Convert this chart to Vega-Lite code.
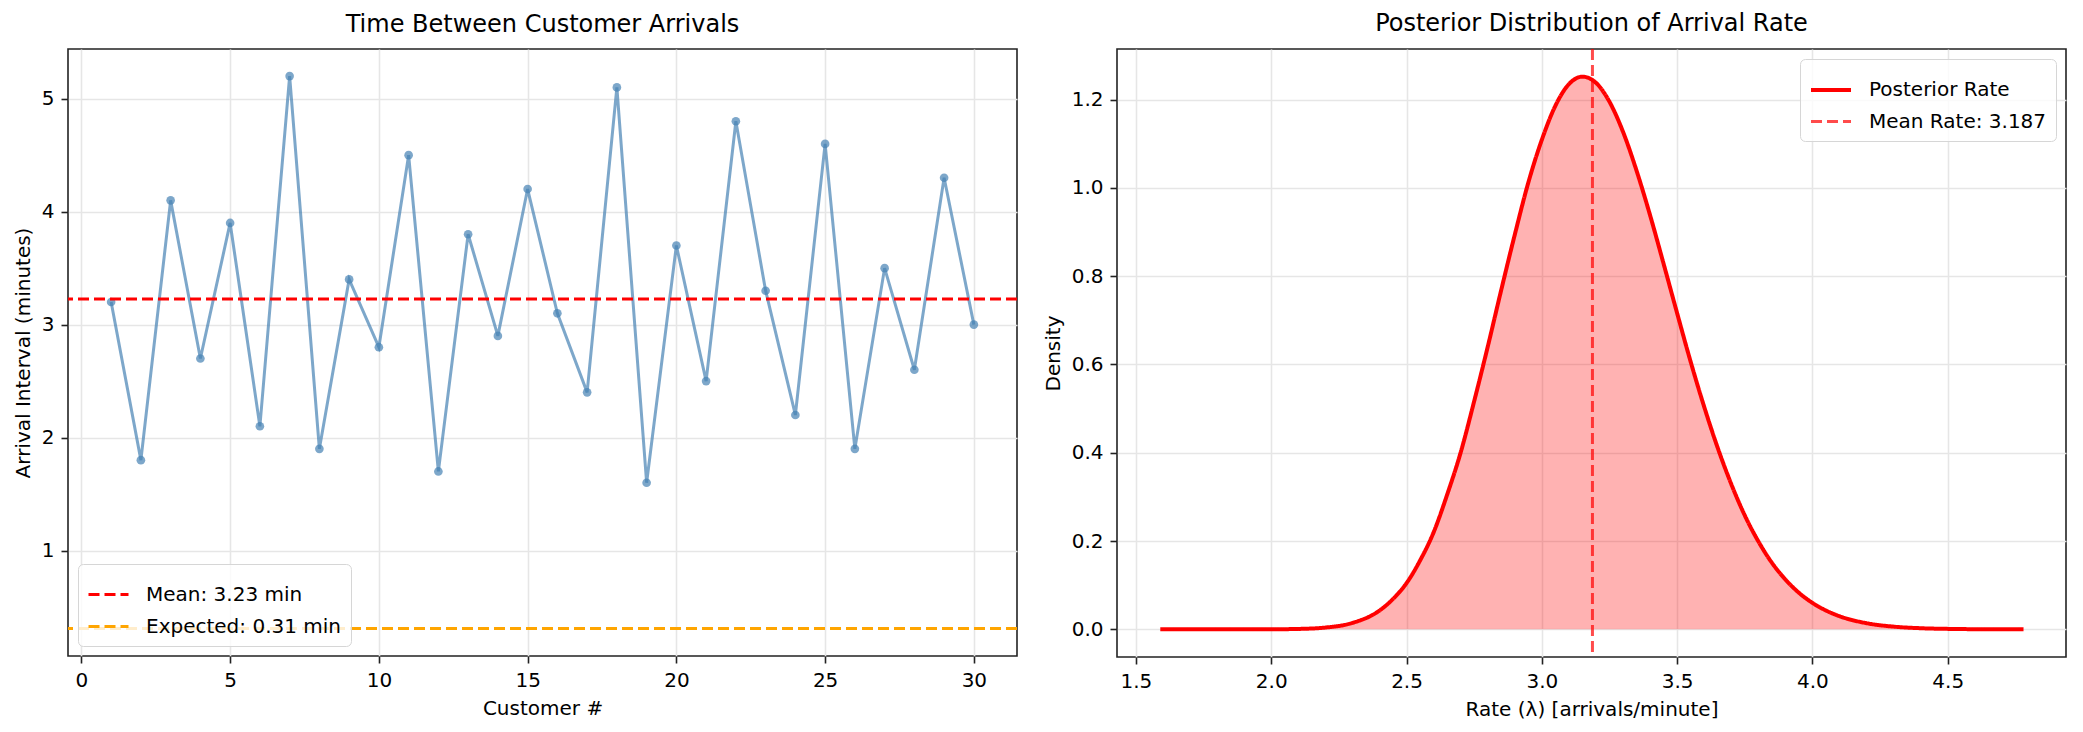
{
  "$schema": "https://vega.github.io/schema/vega-lite/v6.json",
  "padding": {"left": 12, "top": 10, "right": 14, "bottom": 10},
  "bounds": "flush",
  "spacing": 100,
  "datasets": {
    "arrivals": [
      {"customer": 1, "interval": 3.2}, {"customer": 2, "interval": 1.8}, {"customer": 3, "interval": 4.1},
      {"customer": 4, "interval": 2.7}, {"customer": 5, "interval": 3.9}, {"customer": 6, "interval": 2.1},
      {"customer": 7, "interval": 5.2}, {"customer": 8, "interval": 1.9}, {"customer": 9, "interval": 3.4},
      {"customer": 10, "interval": 2.8}, {"customer": 11, "interval": 4.5}, {"customer": 12, "interval": 1.7},
      {"customer": 13, "interval": 3.8}, {"customer": 14, "interval": 2.9}, {"customer": 15, "interval": 4.2},
      {"customer": 16, "interval": 3.1}, {"customer": 17, "interval": 2.4}, {"customer": 18, "interval": 5.1},
      {"customer": 19, "interval": 1.6}, {"customer": 20, "interval": 3.7}, {"customer": 21, "interval": 2.5},
      {"customer": 22, "interval": 4.8}, {"customer": 23, "interval": 3.3}, {"customer": 24, "interval": 2.2},
      {"customer": 25, "interval": 4.6}, {"customer": 26, "interval": 1.9}, {"customer": 27, "interval": 3.5},
      {"customer": 28, "interval": 2.6}, {"customer": 29, "interval": 4.3}, {"customer": 30, "interval": 3.0}
    ],
    "reflines": [
      {"label": "Mean: 3.23 min", "value": 3.227},
      {"label": "Expected: 0.31 min", "value": 0.31}
    ],
    "posterior": [
      {"rate": 1.59, "density": 0.0, "series": "Posterior Rate"},
      {"rate": 1.7, "density": 0.0, "series": "Posterior Rate"},
      {"rate": 1.8, "density": 0.0, "series": "Posterior Rate"},
      {"rate": 1.9, "density": 0.00003, "series": "Posterior Rate"},
      {"rate": 2.0, "density": 0.00018, "series": "Posterior Rate"},
      {"rate": 2.1, "density": 0.00096, "series": "Posterior Rate"},
      {"rate": 2.2, "density": 0.0041, "series": "Posterior Rate"},
      {"rate": 2.3, "density": 0.0146, "series": "Posterior Rate"},
      {"rate": 2.4, "density": 0.0426, "series": "Posterior Rate"},
      {"rate": 2.45, "density": 0.0689, "series": "Posterior Rate"},
      {"rate": 2.5, "density": 0.1048, "series": "Posterior Rate"},
      {"rate": 2.55, "density": 0.156, "series": "Posterior Rate"},
      {"rate": 2.6, "density": 0.2197, "series": "Posterior Rate"},
      {"rate": 2.65, "density": 0.305, "series": "Posterior Rate"},
      {"rate": 2.7, "density": 0.4006, "series": "Posterior Rate"},
      {"rate": 2.75, "density": 0.517, "series": "Posterior Rate"},
      {"rate": 2.8, "density": 0.64, "series": "Posterior Rate"},
      {"rate": 2.85, "density": 0.769, "series": "Posterior Rate"},
      {"rate": 2.9, "density": 0.894, "series": "Posterior Rate"},
      {"rate": 2.95, "density": 1.012, "series": "Posterior Rate"},
      {"rate": 3.0, "density": 1.109, "series": "Posterior Rate"},
      {"rate": 3.05, "density": 1.186, "series": "Posterior Rate"},
      {"rate": 3.1, "density": 1.235, "series": "Posterior Rate"},
      {"rate": 3.15, "density": 1.252, "series": "Posterior Rate"},
      {"rate": 3.2, "density": 1.238, "series": "Posterior Rate"},
      {"rate": 3.25, "density": 1.195, "series": "Posterior Rate"},
      {"rate": 3.3, "density": 1.127, "series": "Posterior Rate"},
      {"rate": 3.35, "density": 1.039, "series": "Posterior Rate"},
      {"rate": 3.4, "density": 0.938, "series": "Posterior Rate"},
      {"rate": 3.45, "density": 0.828, "series": "Posterior Rate"},
      {"rate": 3.5, "density": 0.716, "series": "Posterior Rate"},
      {"rate": 3.55, "density": 0.606, "series": "Posterior Rate"},
      {"rate": 3.6, "density": 0.504, "series": "Posterior Rate"},
      {"rate": 3.65, "density": 0.411, "series": "Posterior Rate"},
      {"rate": 3.7, "density": 0.329, "series": "Posterior Rate"},
      {"rate": 3.75, "density": 0.258, "series": "Posterior Rate"},
      {"rate": 3.8, "density": 0.1994, "series": "Posterior Rate"},
      {"rate": 3.85, "density": 0.151, "series": "Posterior Rate"},
      {"rate": 3.9, "density": 0.113, "series": "Posterior Rate"},
      {"rate": 3.95, "density": 0.0829, "series": "Posterior Rate"},
      {"rate": 4.0, "density": 0.06, "series": "Posterior Rate"},
      {"rate": 4.05, "density": 0.0427, "series": "Posterior Rate"},
      {"rate": 4.1, "density": 0.0298, "series": "Posterior Rate"},
      {"rate": 4.2, "density": 0.014, "series": "Posterior Rate"},
      {"rate": 4.3, "density": 0.0062, "series": "Posterior Rate"},
      {"rate": 4.4, "density": 0.0026, "series": "Posterior Rate"},
      {"rate": 4.5, "density": 0.0011, "series": "Posterior Rate"},
      {"rate": 4.6, "density": 0.0004, "series": "Posterior Rate"},
      {"rate": 4.7, "density": 0.0002, "series": "Posterior Rate"},
      {"rate": 4.78, "density": 0.0001, "series": "Posterior Rate"}
    ],
    "meanrate": [
      {"rate": 3.187, "series": "Mean Rate: 3.187"}
    ]
  },
  "hconcat": [
    {
      "title": "Time Between Customer Arrivals",
      "width": 949,
      "height": 607,
      "layer": [
        {
          "data": {"name": "arrivals"},
          "mark": {
            "type": "line",
            "color": "#4682b4",
            "opacity": 0.7,
            "strokeWidth": 3,
            "point": {"filled": true, "size": 75, "color": "#4682b4", "opacity": 0.7}
          },
          "encoding": {
            "x": {
              "field": "customer",
              "type": "quantitative",
              "title": "Customer #",
              "scale": {"domain": [-0.45, 31.45], "nice": false, "zero": false},
              "axis": {"values": [0, 5, 10, 15, 20, 25, 30], "format": "d"}
            },
            "y": {
              "field": "interval",
              "type": "quantitative",
              "title": "Arrival Interval (minutes)",
              "scale": {"domain": [0.066, 5.44], "nice": false, "zero": false},
              "axis": {"values": [1, 2, 3, 4, 5], "format": "d"}
            }
          }
        },
        {
          "data": {"name": "reflines"},
          "mark": {"type": "rule", "strokeWidth": 3, "strokeDash": [11, 5]},
          "encoding": {
            "y": {"field": "value", "type": "quantitative"},
            "color": {
              "field": "label",
              "type": "nominal",
              "scale": {"domain": ["Mean: 3.23 min", "Expected: 0.31 min"], "range": ["#ff0000", "#ffa500"]},
              "legend": {
                "title": null,
                "orient": "bottom-left",
                "offset": 10,
                "symbolDash": [11, 5],
                "symbolStrokeWidth": 3
              }
            }
          }
        }
      ]
    },
    {
      "title": "Posterior Distribution of Arrival Rate",
      "width": 949,
      "height": 608,
      "layer": [
        {
          "data": {"name": "posterior"},
          "mark": {"type": "area", "color": "#ff0000", "opacity": 0.3, "interpolate": "monotone"},
          "encoding": {
            "x": {
              "field": "rate",
              "type": "quantitative",
              "title": "Rate (λ) [arrivals/minute]",
              "scale": {"domain": [1.43, 4.937], "nice": false, "zero": false},
              "axis": {"values": [1.5, 2.0, 2.5, 3.0, 3.5, 4.0, 4.5], "format": ".1f"}
            },
            "y": {
              "field": "density",
              "type": "quantitative",
              "title": "Density",
              "scale": {"domain": [-0.0626, 1.3146], "nice": false, "zero": false},
              "axis": {"values": [0, 0.2, 0.4, 0.6, 0.8, 1.0, 1.2], "format": ".1f"}
            },
            "y2": {"datum": 0}
          }
        },
        {
          "data": {"name": "posterior"},
          "mark": {"type": "line", "interpolate": "monotone"},
          "encoding": {
            "x": {"field": "rate", "type": "quantitative"},
            "y": {"field": "density", "type": "quantitative"},
            "color": {
              "field": "series",
              "type": "nominal",
              "scale": {"domain": ["Posterior Rate", "Mean Rate: 3.187"], "range": ["#ff0000", "#ff0000"]},
              "legend": {"title": null, "orient": "top-right", "offset": 10}
            },
            "strokeDash": {
              "field": "series",
              "type": "nominal",
              "scale": {"domain": ["Posterior Rate", "Mean Rate: 3.187"], "range": [[1, 0], [11, 5]]},
              "legend": {"title": null, "orient": "top-right", "offset": 10}
            },
            "strokeWidth": {
              "field": "series",
              "type": "nominal",
              "scale": {"domain": ["Posterior Rate", "Mean Rate: 3.187"], "range": [4, 3]},
              "legend": {"title": null, "orient": "top-right", "offset": 10}
            },
            "opacity": {
              "field": "series",
              "type": "nominal",
              "scale": {"domain": ["Posterior Rate", "Mean Rate: 3.187"], "range": [1, 0.7]},
              "legend": {"title": null, "orient": "top-right", "offset": 10}
            }
          }
        },
        {
          "data": {"name": "meanrate"},
          "mark": {"type": "rule"},
          "encoding": {
            "x": {"field": "rate", "type": "quantitative"},
            "color": {"field": "series", "type": "nominal"},
            "strokeDash": {"field": "series", "type": "nominal"},
            "strokeWidth": {"field": "series", "type": "nominal"},
            "opacity": {"field": "series", "type": "nominal"}
          }
        }
      ]
    }
  ],
  "resolve": {
    "scale": {"x": "independent", "y": "independent", "color": "independent", "strokeDash": "independent", "strokeWidth": "independent", "opacity": "independent"},
    "legend": {"color": "independent", "strokeDash": "independent", "strokeWidth": "independent", "opacity": "independent"}
  },
  "config": {
    "font": "DejaVu Sans",
    "background": "white",
    "view": {"stroke": "#222222", "strokeWidth": 1.6},
    "axis": {
      "domain": false,
      "grid": true,
      "gridColor": "#e6e6e6",
      "gridWidth": 1.6,
      "tickColor": "#222222",
      "tickWidth": 1.6,
      "tickSize": 7,
      "labelPadding": 7,
      "labelFont": "DejaVu Sans",
      "labelFontSize": 20,
      "labelColor": "#000000",
      "titleFont": "DejaVu Sans",
      "titleFontSize": 20,
      "titleFontWeight": "normal",
      "titleColor": "#000000",
      "titlePadding": 8
    },
    "title": {"font": "DejaVu Sans", "fontSize": 24, "fontWeight": "normal", "color": "#000000", "offset": 12},
    "legend": {
      "symbolType": "stroke",
      "symbolSize": 1600,
      "labelFont": "DejaVu Sans",
      "labelFontSize": 20,
      "labelColor": "#000000",
      "labelLimit": 0,
      "labelOffset": 16,
      "rowPadding": -9,
      "padding": 9,
      "cornerRadius": 5,
      "strokeColor": "#d6d6d6",
      "fillColor": "rgba(255,255,255,0.8)"
    }
  }
}
